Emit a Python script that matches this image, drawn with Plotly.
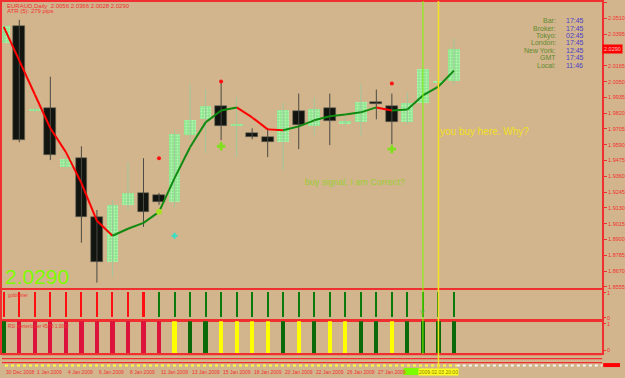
import plotly.graph_objects as go

W, H = 625, 378

# ---------------- data ----------------
bars = list(range(30))
opens  = [2.0333, 2.0456, 1.9838, 1.9855, 1.9427, 1.9492, 1.9065, 1.8739, 1.9152, 1.9239,
          1.9224, 1.9173, 1.9659, 1.9775, 1.9869, 1.9731, 1.9673, 1.9645, 1.9608, 1.9833,
          1.9724, 1.9855, 1.9746, 1.9753, 1.9905, 1.9876, 1.9753, 1.9891, 2.0043, 2.0056]
highs  = [2.0460, 2.0500, 1.9860, 2.0086, 1.9500, 1.9579, 1.9115, 1.9188, 1.9463, 1.9492,
          1.9239, 1.9695, 2.0036, 1.9992, 2.0050, 1.9934, 1.9710, 1.9710, 1.9898, 1.9963,
          1.9934, 1.9963, 1.9789, 2.0036, 1.9992, 1.9963, 1.9971, 2.0152, 2.0057, 2.0366]
lows   = [2.0330, 1.9608, 1.9826, 1.9478, 1.9413, 1.8876, 1.8586, 1.8630, 1.9115, 1.8992,
          1.9152, 1.9137, 1.9623, 1.9529, 1.9623, 1.9500, 1.9630, 1.9500, 1.9405, 1.9558,
          1.9659, 1.9587, 1.9731, 1.9652, 1.9775, 1.9594, 1.9739, 1.9884, 2.0036, 2.0028]
closes = [2.0456, 1.9623, 1.9848, 1.9514, 1.9485, 1.9065, 1.8739, 1.9152, 1.9239, 1.9101,
          1.9173, 1.9666, 1.9768, 1.9869, 1.9724, 1.9739, 1.9645, 1.9608, 1.9840, 1.9731,
          1.9847, 1.9760, 1.9760, 1.9905, 1.9884, 1.9753, 1.9891, 2.0145, 2.0050, 2.0290]

ma_values = [2.0449, 2.0203, 1.9956, 1.9710, 1.9536, 1.9311, 1.9036, 1.8927, 1.8978, 1.9021,
             1.9101, 1.9347, 1.9572, 1.9753, 1.9840, 1.9862, 1.9789, 1.9702, 1.9695, 1.9724,
             1.9768, 1.9797, 1.9811, 1.9826, 1.9862, 1.9840, 1.9847, 1.9949, 2.0014, 2.0130]
# trend of the MA segment ending at each bar
ma_trend = ['dn'] * 8 + ['up'] * 8 + ['dn'] * 3 + ['up'] * 6 + ['dn'] + ['up'] * 4

sell_dot_bars = [10, 14, 25]
sell_dot_prices = [1.9492, 2.0050, 2.0036]
buy_arrow_bars = [14, 25]
buy_arrow_prices = [1.9579, 1.9558]
cyan_bars = [11]
cyan_prices = [1.8927]
ma_dot_bars = [10]

goldminer_state = ['dn'] * 10 + ['up'] * 20
rsi_state = ['up'] + ['dn'] * 10 + ['mid', 'up', 'up', 'mid', 'mid', 'mid', 'mid', 'up', 'mid',
                                    'up', 'mid', 'mid', 'up', 'up', 'mid', 'up', 'up', 'up', 'up']

date_bars = [0, 2, 4, 6, 8, 10, 12, 14, 16, 18, 20, 22, 24]
date_texts = ['30 Dec 2008', '1 Jan 2009', '4 Jan 2009', '6 Jan 2009', '8 Jan 2009',
              '11 Jan 2009', '13 Jan 2009', '15 Jan 2009', '18 Jan 2009', '20 Jan 2009',
              '22 Jan 2009', '26 Jan 2009', '27 Jan 2009']

price_ticks = [2.0625, 2.0510, 2.0395, 2.0165, 2.0050, 1.9935, 1.9820, 1.9705, 1.9590,
               1.9475, 1.9360, 1.9245, 1.9130, 1.9015, 1.8900, 1.8785, 1.8670, 1.8555]

clock_labels = ['Bar:', 'Broker:', 'Tokyo:', 'London:', 'New York:', 'GMT', 'Local:']
clock_times = ['17:45', '17:45', '02:45', '17:45', '12:45', '17:45', '11:46']

green_line_bar = 27
yellow_line_bar = 28
yellow_line_time = '2009.02.03 20:00'

# ---------------- styles ----------------
BG = '#D3B58D'
RED = '#F03030'
FONT = 'Liberation Sans'
BULL = '#8CE68C'
BEAR = '#121410'

def py(p):  # pixel (from top) -> paper y
    return 1 - p / H

def px(p):
    return p / W

XR = [-0.115, 38.55]
XDOM = [0, 607 / W]

fig = go.Figure()

# wicks
bx, by, rx, ry = [], [], [], []
for i in bars:
    if closes[i] >= opens[i]:
        bx += [i, i, None]; by += [lows[i], highs[i], None]
    else:
        rx += [i, i, None]; ry += [lows[i], highs[i], None]
fig.add_trace(go.Scatter(x=bx, y=by, mode='lines', line=dict(color='#9FC79A', width=1),
                         hoverinfo='skip', showlegend=False))
fig.add_trace(go.Scatter(x=rx, y=ry, mode='lines', line=dict(color='#4A4A44', width=1),
                         hoverinfo='skip', showlegend=False))

# bodies
ub = [i for i in bars if closes[i] >= opens[i]]
db = [i for i in bars if closes[i] < opens[i]]
fig.add_trace(go.Bar(x=ub, base=[opens[i] for i in ub],
                     y=[max(closes[i] - opens[i], 0.0012) for i in ub],
                     width=0.76, showlegend=False,
                     marker=dict(color=BULL, line=dict(width=0),
                                 pattern=dict(shape='.', fgcolor='#E6FFE6', bgcolor=BULL,
                                              size=3, solidity=0.35))))
fig.add_trace(go.Bar(x=db, base=[closes[i] for i in db],
                     y=[max(opens[i] - closes[i], 0.0012) for i in db],
                     width=0.76, showlegend=False,
                     marker=dict(color=BEAR, line=dict(color='#6A6A5A', width=0.6))))

# MA line, coloured by trend
seg = {'dn': ([], []), 'up': ([], [])}
for i in bars[1:]:
    sx, sy = seg[ma_trend[i]]
    sx += [i - 1, i, None]
    sy += [ma_values[i - 1], ma_values[i], None]
fig.add_trace(go.Scatter(x=seg['dn'][0], y=seg['dn'][1], mode='lines',
                         line=dict(color='#FF0000', width=2), showlegend=False))
fig.add_trace(go.Scatter(x=seg['up'][0], y=seg['up'][1], mode='lines',
                         line=dict(color='#108A10', width=2), showlegend=False))

# signal markers
fig.add_trace(go.Scatter(x=sell_dot_bars, y=sell_dot_prices, mode='markers',
                         marker=dict(color='#FF1010', size=4), showlegend=False))
fig.add_trace(go.Scatter(x=buy_arrow_bars, y=buy_arrow_prices, mode='markers',
                         marker=dict(color='#80E020', size=7, symbol='cross'), showlegend=False))
fig.add_trace(go.Scatter(x=cyan_bars, y=cyan_prices, mode='markers',
                         marker=dict(color='#30E0C8', size=5, symbol='cross'), showlegend=False))
fig.add_trace(go.Scatter(x=ma_dot_bars, y=[ma_values[i] for i in ma_dot_bars], mode='markers',
                         marker=dict(color='#A8E020', size=6), showlegend=False))

# sub window 1 : goldminer
gcol = {'dn': '#FF1010', 'up': '#0A7A0A'}
fig.add_trace(go.Bar(x=bars, y=[1] * len(bars), base=0, width=0.13,
                     marker=dict(color=[gcol[s] for s in goldminer_state], line=dict(width=0)),
                     xaxis='x2', yaxis='y2', showlegend=False))
# sub window 2 : RSI
rcol = {'dn': '#DC143C', 'up': '#0A6A0A', 'mid': '#FFFF00'}
fig.add_trace(go.Bar(x=bars, y=[1.2] * len(bars), base=-0.1, width=0.27,
                     marker=dict(color=[rcol[s] for s in rsi_state], line=dict(width=0)),
                     xaxis='x3', yaxis='y3', showlegend=False))

axis_common = dict(showgrid=False, zeroline=False, showline=True, linecolor=RED,
                   linewidth=1.5, mirror=True)
yfont = dict(family=FONT, size=5.5, color=RED)

main_top, main_bot = 1, 289
s1_top, s1_bot = 291, 321
s2_top, s2_bot = 322, 354

price_top = 2.0630
price_bot = 1.8543

fig.update_layout(
    width=W, height=H, margin=dict(l=0, r=0, t=0, b=0),
    paper_bgcolor=BG, plot_bgcolor=BG, barmode='overlay', bargap=0,
    font=dict(family=FONT, color=RED),
    xaxis=dict(domain=XDOM, range=XR, showticklabels=False, ticks='', **axis_common),
    yaxis=dict(domain=[py(main_bot), py(main_top)], range=[price_bot, price_top], side='right',
               tickvals=price_ticks, tickformat='.4f', ticks='outside', ticklen=3,
               tickcolor=RED, tickfont=yfont, anchor='x', **axis_common),
    xaxis2=dict(domain=XDOM, range=XR, showticklabels=False, ticks='', anchor='y2',
                matches='x', **axis_common),
    yaxis2=dict(domain=[py(s1_bot), py(s1_top)], range=[-0.1, 1.1], side='right', anchor='x2',
                tickvals=[0, 1], ticktext=['0', '1'], ticks='outside', ticklen=2, tickcolor=RED,
                tickfont=yfont, **axis_common),
    xaxis3=dict(domain=XDOM, range=XR, showticklabels=False, ticks='', anchor='y3',
                matches='x', **axis_common),
    yaxis3=dict(domain=[py(s2_bot), py(s2_top)], range=[-0.1, 1.1], side='right', anchor='x3',
                tickvals=[0, 1], ticktext=['0', '1'], ticks='outside', ticklen=2, tickcolor=RED,
                tickfont=yfont, **axis_common),
)

shapes = []
# bottom strip lines
for yy in [355.5, 359.5, 363.5]:
    shapes.append(dict(type='line', xref='paper', yref='paper', x0=0, x1=XDOM[1],
                       y0=py(yy), y1=py(yy), line=dict(color=RED, width=1.2)))
shapes.append(dict(type='line', xref='paper', yref='paper', x0=px(3), x1=px(460),
                   y0=py(366.5), y1=py(366.5), line=dict(color='#FFFF40', width=2, dash='dot')))
shapes.append(dict(type='line', xref='paper', yref='paper', x0=px(460), x1=XDOM[1],
                   y0=py(366.5), y1=py(366.5), line=dict(color='#F4F4F4', width=2, dash='dot')))
shapes.append(dict(type='rect', xref='paper', yref='paper', x0=px(608), x1=1,
                   y0=py(368), y1=py(364), line=dict(width=0), fillcolor='#FF0000'))
# green time box (mostly hidden behind the yellow one)
shapes.append(dict(type='rect', xref='paper', yref='paper', x0=px(406), x1=px(423),
                   y0=py(376), y1=py(369), line=dict(width=0), fillcolor='#7CFC00'))
# vertical lines
shapes.append(dict(type='line', xref='x', yref='paper', x0=green_line_bar, x1=green_line_bar,
                   y0=py(355), y1=1, line=dict(color='#7CFC00', width=1)))
shapes.append(dict(type='line', xref='x', yref='paper', x0=yellow_line_bar, x1=yellow_line_bar,
                   y0=py(369), y1=1, line=dict(color='#F0E020', width=1.5)))
fig.update_layout(shapes=shapes)

ann = []
def text(x, y, s, size, color, xanchor='left', **kw):
    ann.append(dict(x=x, y=y, xref=kw.pop('xref', 'paper'), yref=kw.pop('yref', 'paper'),
                    text=s, showarrow=False, xanchor=xanchor, yanchor='middle',
                    font=dict(family=FONT, size=size, color=color), **kw))

text(px(3), py(5), 'EURAUD,Daily  %.4f %.4f %.4f %.4f' % (opens[-1], highs[-1], lows[-1], closes[-1]),
     6, RED)
text(px(3), py(10.5), 'ATR (5): 279 pips', 6, RED)
text(px(1), py(276.5), '%.4f' % closes[-1], 21, '#7CFC00')
text(px(304), py(182), 'buy signal, I am Correct?', 9, '#9ACD32')
text(px(441), py(131.5), 'you buy here. Why?', 10, '#F0E020')
for k, (lab, tm) in enumerate(zip(clock_labels, clock_times)):
    yy = py(20 + k * 7.4)
    text(px(562), yy, lab, 7, '#5F8A2E', xanchor='right')
    text(px(568), yy, tm, 7, '#4B3FC8')
text(px(4), py(296), 'goldminer', 4.5, RED)
text(px(4), py(327.5), 'RSI alerter/order 45/55 1.0002', 4.5, RED)
text(green_line_bar, py(313), 'V', 7, '#78B040', xanchor='center', xref='x')
for b, t in zip(date_bars, date_texts):
    text(b, py(372.5), t, 5, RED, xref='x')
text(yellow_line_bar, py(372.5), yellow_line_time, 5, '#8A7A00', xanchor='center', xref='x',
     bgcolor='#FFFF20', borderpad=0)
text(px(607), closes[-1], '%.4f' % closes[-1], 5.5, '#FFC0C0', yref='y',
     bgcolor='#FF0000', borderpad=1)
fig.update_layout(annotations=ann)

fig.write_html('out.html')
